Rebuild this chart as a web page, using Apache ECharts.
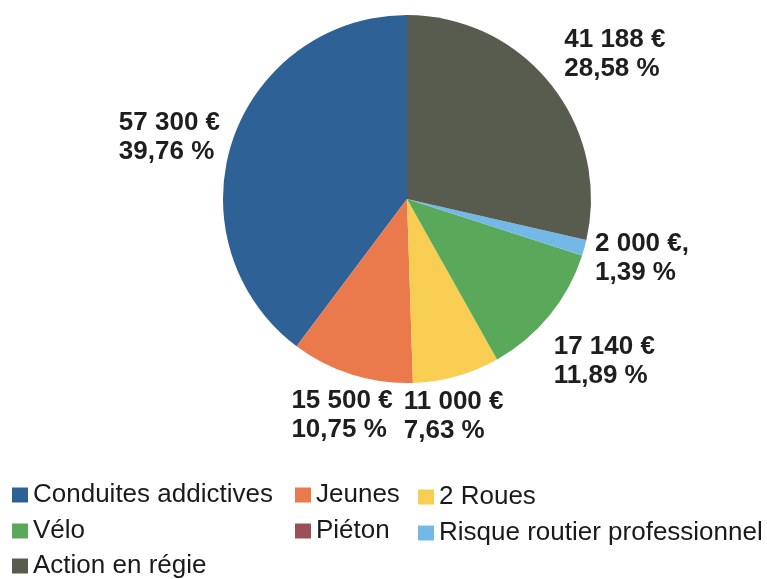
<!DOCTYPE html>
<html>
<head>
<meta charset="utf-8">
<script src="https://cdn.jsdelivr.net/npm/echarts@6/dist/echarts.min.js"></script>
<style>
html,body{margin:0;padding:0;background:#ffffff;}
#chart{width:767px;height:579px;}
</style>
</head>
<body>
<div id="chart"></div>
<script>
var categories = ['Conduites addictives', 'Jeunes', '2 Roues', 'Vélo', 'Piéton', 'Risque routier professionnel', 'Action en régie'];
var values = [57300, 15500, 11000, 17140, 0, 2000, 41188];
var valueSuffix = ['', '', '', '', '', ',', ''];
var colors = ['#2e6196', '#ea7a4c', '#f8ce52', '#5aa85a', '#9b5055', '#74b8e8', '#585c4e'];
// legend grid: [name, column, row]
var legendCells = [
  ['Conduites addictives', 0, 0], ['Jeunes', 1, 0], ['2 Roues', 2, 0],
  ['Vélo', 0, 1], ['Piéton', 1, 1], ['Risque routier professionnel', 2, 1],
  ['Action en régie', 0, 2]
];

function fmtNum(v) { return String(v).replace(/\B(?=(\d{3})+(?!\d))/g, ' '); }

var chart = echarts.init(document.getElementById('chart'), null, {renderer: 'canvas'});

var data = categories.map(function (c, i) {
  return {name: c, value: values[i], itemStyle: {color: colors[i]}};
});

var colLeft = [12, 295, 418];
var rowTop = [482, 518, 553];
var legends = legendCells.map(function (cell) {
  return {
    orient: 'horizontal',
    left: colLeft[cell[1]],
    top: rowTop[cell[2]] + (cell[1] === 2 ? 2 : 0),
    itemWidth: 16,
    itemHeight: 15,
    icon: 'rect',
    selectedMode: false,
    padding: 0,
    data: [cell[0]],
    textStyle: {fontFamily: 'Liberation Sans', fontSize: 26, lineHeight: 26, color: '#1a1a1a'}
  };
});

chart.setOption({
  animation: false,
  backgroundColor: '#ffffff',
  legend: legends,
  series: [{
    type: 'pie',
    center: [407, 199],
    radius: 184,
    startAngle: 90,
    clockwise: false,
    minShowLabelAngle: 1,
    avoidLabelOverlap: false,
    itemStyle: {borderWidth: 0},
    emphasis: {disabled: true},
    data: data,
    label: {
      show: true,
      position: 'outside',
      fontFamily: 'Liberation Sans',
      fontSize: 26,
      fontWeight: 'bold',
      lineHeight: 29,
      color: '#1e1e1e',
      formatter: function (p) {
        return fmtNum(p.value) + ' €' + valueSuffix[p.dataIndex] + '\n' + p.percent.toFixed(2).replace('.', ',') + ' %';
      }
    },
    labelLine: {show: true, length: 10, length2: 0, lineStyle: {opacity: 0, width: 0}},
    labelLayout: function (p) {
      var pts = p.labelLinePoints;
      if (!pts) return {};
      var x1 = pts[0][0], y1 = pts[0][1];
      var vx = pts[1][0] - x1, vy = pts[1][1] - y1;
      var len = Math.sqrt(vx * vx + vy * vy) || 1;
      vx /= len; vy /= len;
      var deg = Math.atan2(-vy, vx) * 180 / Math.PI;
      if (deg < 0) deg += 360;
      var gap = 12;
      var ax = x1 + vx * gap, ay = y1 + vy * gap;
      var h, valign, ox = 0, oy = 0;
      if (deg <= 22.5 || deg > 337.5) { h = 'left'; valign = 'middle'; oy = 7; ox = -1; }
      else if (deg < 67.5) { h = 'left'; valign = 'bottom'; ox = 4; oy = 7; }
      else if (deg < 112.5) { h = 'center'; valign = 'bottom'; }
      else if (deg <= 157.5) { h = 'right'; valign = 'bottom'; }
      else if (deg <= 202.5) { h = 'right'; valign = 'middle'; ox = -1; }
      else if (deg < 247.5) { h = 'right'; valign = 'top'; }
      else if (deg < 292.5) { h = 'center'; valign = 'top'; ox = -6; }
      else { h = 'left'; valign = 'top'; ox = -5; oy = 9; }
      var w = p.labelRect.width;
      var x = h === 'left' ? ax : (h === 'right' ? ax - w : ax - w / 2);
      return {x: x + ox, y: ay + oy, align: 'left', verticalAlign: valign};
    }
  }]
});
</script>
</body>
</html>
